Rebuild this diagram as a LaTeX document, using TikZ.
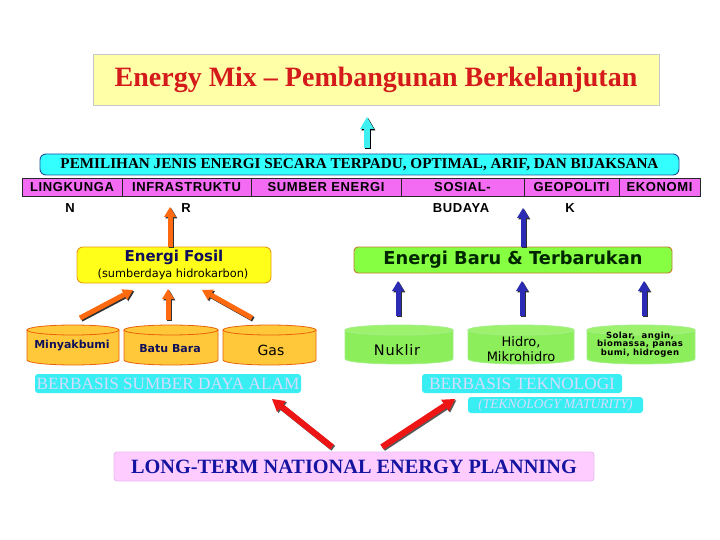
\documentclass[tikz,border=0pt]{standalone}
\usepackage{fontspec}
\usepackage{graphicx}
\setmainfont{Liberation Serif}
\newfontfamily\catf[LetterSpace=5]{Liberation Sans}
\newfontfamily\tahf{DejaVu Sans}
\newfontfamily\tahspf[LetterSpace=5]{DejaVu Sans}
\usetikzlibrary{arrows.meta}

\definecolor{titlefill}{HTML}{FFFFA8}
\definecolor{titleborder}{HTML}{C8C8C8}
\definecolor{titlered}{HTML}{D41A1A}
\definecolor{cyanA}{HTML}{33FFFF}
\definecolor{bannerb}{HTML}{1F4E9C}
\definecolor{magA}{HTML}{F26BF2}
\definecolor{fosy}{HTML}{FFFF1A}
\definecolor{fosb}{HTML}{E89A10}
\definecolor{navyT}{HTML}{10105A}
\definecolor{cylO}{HTML}{FFC83A}
\definecolor{cylOb}{HTML}{E8620A}
\definecolor{ebtG}{HTML}{86FF42}
\definecolor{ebtb}{HTML}{C07A30}
\definecolor{cylG}{HTML}{8CEE5A}
\definecolor{cylGt}{HTML}{9CF26C}
\definecolor{cylGb}{HTML}{A6EE8A}
\definecolor{cyanB}{HTML}{38EEF2}
\definecolor{lblt}{HTML}{D4DCFF}
\definecolor{pinkF}{HTML}{FFCCFF}
\definecolor{pinkb}{HTML}{E6BCEE}
\definecolor{ltblue}{HTML}{1414A0}
\definecolor{arrO}{HTML}{FF6A10}
\definecolor{arrB}{HTML}{2B2BB5}
\definecolor{arrR}{HTML}{EE1515}
\definecolor{arrC}{HTML}{40F0F0}
\definecolor{shd}{HTML}{303030}

\newcommand\setfs[1]{\fontsize{#1}{#1}\selectfont}

\newcommand\barrow[7]{%
  \draw[draw=#2, line width=#3, -{Triangle[length=#4,width=#5,line width=0pt]},
        transform canvas={xshift=1.3pt,yshift=-1.3pt}] (#6) -- (#7);
  \draw[draw=#1, line width=#3, -{Triangle[length=#4,width=#5,line width=0pt]}] (#6) -- (#7);
}

% x1 x2 ytop ybot ry fill border topfill
\newcommand\drawcyl[8]{%
  \pgfmathsetmacro\cylcx{(#1+#2)/2}%
  \pgfmathsetmacro\cylrx{(#2-#1)/2}%
  \pgfmathsetmacro\cylyt{#3+#5}%
  \pgfmathsetmacro\cylyc{#4-#5}%
  \pgfmathsetmacro\cylkx{0.5523*\cylrx}%
  \pgfmathsetmacro\cylky{0.5523*#5}%
  \filldraw[fill=#6,draw=#7,line width=0.8pt] (#1,\cylyt) -- (#1,\cylyc)
     .. controls (#1,\cylyc+\cylky) and (\cylcx-\cylkx,#4) .. (\cylcx,#4)
     .. controls (\cylcx+\cylkx,#4) and (#2,\cylyc+\cylky) .. (#2,\cylyc)
     -- (#2,\cylyt) -- cycle;
  \filldraw[fill=#8,draw=#7,line width=0.8pt] (\cylcx,\cylyt) ellipse [x radius=\cylrx, y radius=#5];
}

\begin{document}
\begin{tikzpicture}[x=1pt,y=-1pt,
  every node/.style={inner sep=0pt, outer sep=0pt},
  cell/.style={draw=black!85, line width=0.6pt, fill=magA, minimum height=18pt, font=\catf\bfseries\setfs{13}},
  sub/.style={font=\catf\bfseries\setfs{13}},
  cyanlbl/.style={fill=cyanB, rounded corners=3pt, text=lblt},
]
\useasboundingbox[fill=white] (0,0) rectangle (720,540);

% title
\node[draw=titleborder, line width=0.8pt, fill=titlefill, minimum width=566pt, minimum height=51pt,
      font=\bfseries\setfs{28}, text=titlered] (title) at (376,79.5) {Energy Mix – Pembangunan Berkelanjutan};

% banner
\node[draw=bannerb, line width=0.9pt, fill=cyanA, rounded corners=6pt, minimum width=639pt, minimum height=21pt]
  (banner) at (359.5,164.5) {\resizebox{598pt}{10pt}{\bfseries PEMILIHAN JENIS ENERGI SECARA TERPADU, OPTIMAL, ARIF, DAN BIJAKSANA}};

\coordinate (cA) at (367,148);
\coordinate (cB) at (367,117);
\barrow{arrC}{black}{6pt}{12pt}{14pt}{cA}{cB}

% category row
\foreach \nm/\cx/\w/\t in {c1/72/100/LINGKUNGA, c2/186.5/129/INFRASTRUKTU, c3/326/150/SUMBER ENERGI,
                           c4/462.5/123/SOSIAL-, c5/571.5/95/GEOPOLITI, c6/659.5/81/EKONOMI}
  \node[cell, minimum width=\w pt] (\nm) at (\cx,187) {\t};
\node[sub] (c1b) at (70,208.5) {N};
\node[sub] (c2b) at (186,208.5) {R};
\node[sub] (c4b) at (461,208.5) {BUDAYA};
\node[sub] (c5b) at (570,208.5) {K};

% Energi Fosil
\node[draw=fosb, line width=0.9pt, fill=fosy, rounded corners=6pt, minimum width=194pt, minimum height=36pt]
  (fosil) at (174,265) {};
\node[font=\tahf\bfseries\setfs{15}, text=navyT] (fosilA) at (174,257.5) {Energi Fosil};
\node[font=\tahf\setfs{11.3}] (fosilB) at (173,274.5) {(sumberdaya hidrokarbon)};

\coordinate (oU1) at (170,247);
\coordinate (oU2) at (170,207);
\barrow{arrO}{shd}{5pt}{10pt}{12pt}{oU1}{oU2}

% Energi Baru
\node[draw=ebtb, line width=0.9pt, fill=ebtG, rounded corners=4pt, minimum width=318pt, minimum height=26pt,
      font=\tahf\bfseries\setfs{17.8}, text=black!85!green] (ebt) at (513,260) {Energi Baru \& Terbarukan};

\coordinate (bU1) at (523,247);
\coordinate (bU2) at (523,208);
\barrow{arrB}{shd}{5pt}{10pt}{12pt}{bU1}{bU2}

% fossil cylinders
\drawcyl{27}{119}{325}{365}{5}{cylO}{cylOb}{cylO}
\drawcyl{124}{218}{325}{365}{5}{cylO}{cylOb}{cylO}
\drawcyl{223}{316}{325}{365}{5}{cylO}{cylOb}{cylO}
\node[font=\tahf\bfseries\setfs{11}, text=navyT] (minyak) at (72,346) {Minyakbumi};
\node[font=\tahf\bfseries\setfs{11}, text=navyT] (batu) at (170,349) {Batu Bara};
\node[font=\tahf\setfs{14}, text=black] (gas) at (271,350) {Gas};

\coordinate (o1a) at (80,318);  \coordinate (o1b) at (133,290);
\coordinate (o2a) at (168,320); \coordinate (o2b) at (168,289);
\coordinate (o3a) at (252,318); \coordinate (o3b) at (202,290);
\barrow{arrO}{shd}{5pt}{10pt}{12pt}{o1a}{o1b}
\barrow{arrO}{shd}{5pt}{10pt}{12pt}{o2a}{o2b}
\barrow{arrO}{shd}{5pt}{10pt}{12pt}{o3a}{o3b}

% green cylinders
\drawcyl{345}{453}{325}{364}{5}{cylG}{cylGb}{cylGt}
\drawcyl{468}{574}{325}{364}{5}{cylG}{cylGb}{cylGt}
\drawcyl{587}{695}{325}{364}{5}{cylG}{cylGb}{cylGt}
\node[font=\tahspf\setfs{14.5}] (nuklir) at (397,350) {Nuklir};
\node[font=\tahf\setfs{13}, align=center] (hidro) at (521,349) {Hidro,\\[1.5pt]Mikrohidro};
\node[font=\tahspf\bfseries\setfs{8.5}, align=center] (solar) at (640,344.5) {Solar,\ \ angin,\\biomassa, panas\\bumi, hidrogen};

\coordinate (b1a) at (398,316); \coordinate (b1b) at (398,281);
\coordinate (b2a) at (522,316); \coordinate (b2b) at (522,281);
\coordinate (b3a) at (644,316); \coordinate (b3b) at (644,281);
\barrow{arrB}{shd}{5pt}{10pt}{12pt}{b1a}{b1b}
\barrow{arrB}{shd}{5pt}{10pt}{12pt}{b2a}{b2b}
\barrow{arrB}{shd}{5pt}{10pt}{12pt}{b3a}{b3b}

% basis labels
\node[cyanlbl, minimum width=266pt, minimum height=19pt, font=\setfs{17.2}] (bsda) at (168,383.5) {BERBASIS SUMBER DAYA ALAM};
\node[cyanlbl, minimum width=200pt, minimum height=19pt, font=\setfs{17.2}] (btek) at (522,383.5) {BERBASIS TEKNOLOGI};
\node[cyanlbl, minimum width=175pt, minimum height=16pt, font=\itshape\setfs{13.5}] (bmat) at (555.5,405) {(TEKNOLOGY MATURITY)};

% long-term planning
\node[draw=pinkb, line width=0.9pt, fill=pinkF, rounded corners=3pt, minimum width=480pt, minimum height=29pt,
      font=\bfseries\setfs{20.3}, text=ltblue] (ltp) at (354,466.5) {LONG-TERM NATIONAL ENERGY PLANNING};

\coordinate (r1a) at (332,447); \coordinate (r1b) at (272,399);
\coordinate (r2a) at (382,447); \coordinate (r2b) at (455,399);
\barrow{arrR}{shd!80}{6pt}{12pt}{14pt}{r1a}{r1b}
\barrow{arrR}{shd!80}{6pt}{12pt}{14pt}{r2a}{r2b}
\end{tikzpicture}
\end{document}
